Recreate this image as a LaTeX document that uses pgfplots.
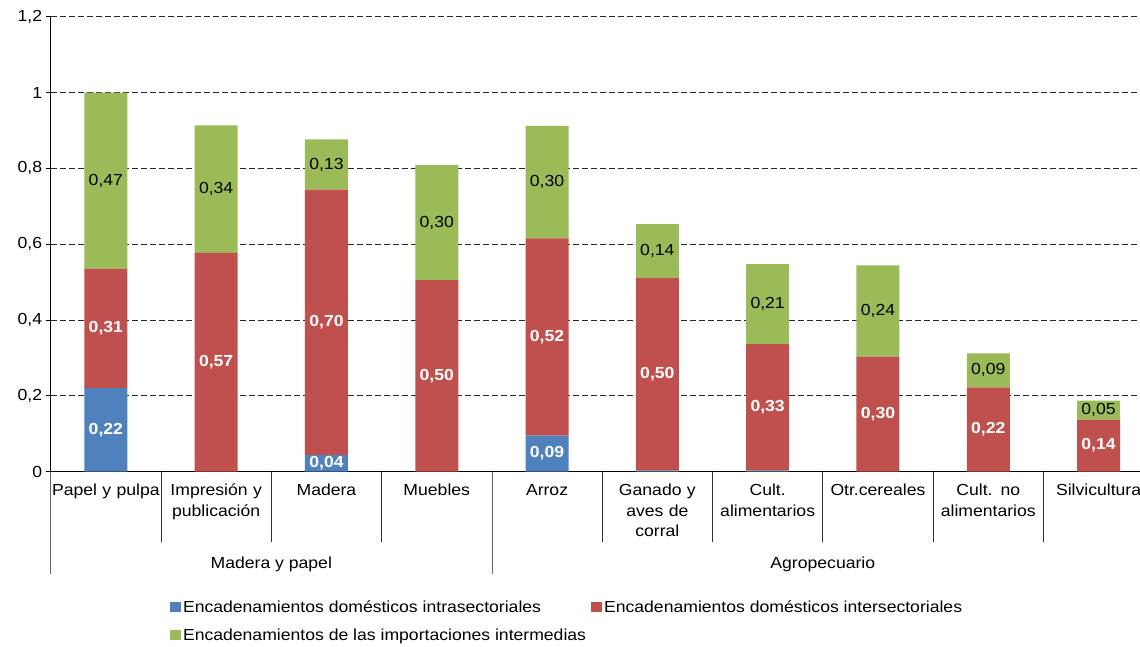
\documentclass[border=0pt]{standalone}
\usepackage{fontspec}
\setmainfont[FakeStretch=1.1]{Liberation Sans}
\usepackage{pgfplots}
\usepackage{pgfplotstable}
\pgfplotsset{compat=1.18}
\definecolor{cblue}{HTML}{4F81BD}
\definecolor{cred}{HTML}{C0504D}
\definecolor{cgreen}{HTML}{9BBB59}

\pgfplotstableread{
x y l
0 0.220 0,22
1 0.000 {}
2 0.044 0,04
3 0.000 {}
4 0.095 0,09
5 0.002 {}
6 0.002 {}
7 0.000 {}
8 0.000 {}
9 0.000 {}
}\tblue
\pgfplotstableread{
x y l
0 0.315 0,31
1 0.577 0,57
2 0.700 0,70
3 0.505 0,50
4 0.520 0,52
5 0.508 0,50
6 0.334 0,33
7 0.303 0,30
8 0.222 0,22
9 0.137 0,14
}\tred
\pgfplotstableread{
x y l
0 0.465 0,47
1 0.336 0,34
2 0.132 0,13
3 0.304 0,30
4 0.297 0,30
5 0.143 0,14
6 0.211 0,21
7 0.241 0,24
8 0.090 0,09
9 0.050 0,05
}\tgreen

\begin{document}
\begin{tikzpicture}[font=\fontsize{16}{20}\selectfont]
\begin{axis}[
  at={(0pt,0pt)}, anchor=south west,
  x=110.3pt, y=379pt,
  xmin=-0.5, xmax=9.5, ymin=0, ymax=1.2,
  enlargelimits=false,
  clip=false,
  ybar stacked,
  bar width=43pt,
  axis lines=left,
  axis line style={-},
  x axis line style={line width=1.6pt},
  y axis line style={line width=0.8pt},
  ytick={0,0.2,...,1.2},
  ymajorgrids,
  major grid style={dash pattern=on 6pt off 3pt, draw=black!85, line width=0.8pt},
  tick align=outside,
  major tick length=5pt,
  ytick style={draw=black, line width=0.8pt},
  xtick style={draw=none},
  xtick={0,...,9},
  xticklabels={Papel y pulpa, {Impresión y\\publicación}, Madera, Muebles, Arroz, {Ganado y\\aves de\\corral}, {Cult.\\alimentarios}, Otr.cereales, {Cult. no\\alimentarios}, Silvicultura},
  xticklabel style={text width=108pt, align=center, anchor=north, yshift=-4pt, font=\fontsize{16}{20.5}\selectfont},
  /pgf/number format/assume math mode=true,
  /pgf/number format/use comma,
  yticklabel style={/pgf/number format/fixed, /pgf/number format/precision=1},
  point meta=explicit symbolic,
  nodes near coords,
  every node near coord/.append style={anchor=center},
  legend columns=2,
  legend cell align=left,
  legend style={draw=none, fill=none, at={(0.108,-0.279)}, anchor=north west,
    inner sep=0pt, row sep=11pt,
    /tikz/every even column/.append style={column sep=3pt}},
  legend image code/.code={\fill[#1] (0pt,-5pt) rectangle (11pt,5pt);},
]
\addplot[fill=cblue, draw=none, nodes near coords style={text=white, font=\fontsize{16}{20}\selectfont\bfseries}] table[x=x, y=y, meta=l] {\tblue};
\addlegendentry{Encadenamientos domésticos intrasectoriales}
\addplot[fill=cred, draw=none, nodes near coords style={text=white, font=\fontsize{16}{20}\selectfont\bfseries}] table[x=x, y=y, meta=l] {\tred};
\addlegendentry{Encadenamientos domésticos intersectoriales}
\addplot[fill=cgreen, draw=none, nodes near coords style={text=black}] table[x=x, y=y, meta=l] {\tgreen};
\addlegendentry{Encadenamientos de las importaciones intermedias}

\pgfplotsinvokeforeach{0.5,1.5,2.5,4.5,5.5,6.5,7.5,8.5}{
  \draw[black!80, line width=0.8pt] (axis cs:#1,0) -- ++(0pt,-70pt);
}
\pgfplotsinvokeforeach{-0.5,3.5,9.5}{
  \draw[black!60, line width=0.8pt] (axis cs:#1,0) -- ++(0pt,-102pt);
}
\node[anchor=center] at ([yshift=-92.5pt]axis cs:1.5,0) {Madera y papel};
\node[anchor=center] at ([yshift=-92.5pt]axis cs:6.5,0) {Agropecuario};
\end{axis}
\pgfresetboundingbox
\useasboundingbox (-50.7pt,-174.5pt) rectangle (1089.3pt,471.5pt);
\end{tikzpicture}
\end{document}
